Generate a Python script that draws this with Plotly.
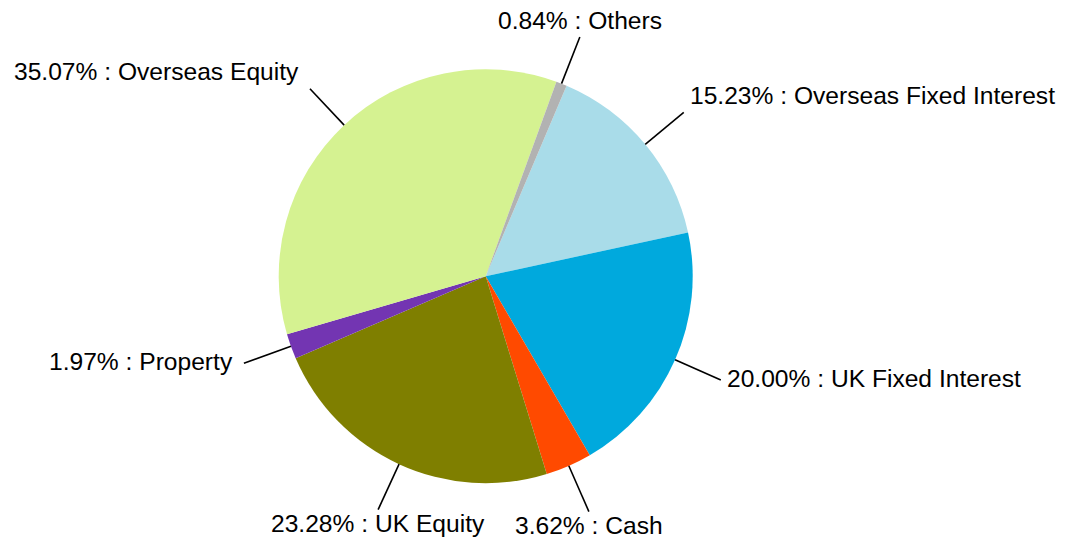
import math
import plotly.graph_objects as go

# ---- data ----
categories = ["Overseas Fixed Interest", "UK Fixed Interest", "Cash", "UK Equity",
              "Property", "Overseas Equity", "Others"]
values = [15.23, 20.00, 3.62, 23.28, 1.97, 35.07, 0.84]
colors = ["#A9DCE9", "#00A9DD", "#FF4A00", "#7F7F00", "#7335B2", "#D5F291", "#B2B2B2"]

# ---- geometry (page pixels; page body adds an 8px offset) ----
PAGE_OFFSET = 8.0
W, H = 1053, 534
CX, CY, R = 485.7 - PAGE_OFFSET, 276.2 - PAGE_OFFSET, 207.0
ROTATION = 23.0
LEADER = 50.0
GAP_LEFT = 9.0
GAP_RIGHT = 4.0
FONT = dict(family="Arial, Liberation Sans, sans-serif", size=24.6, color="black")

fig = go.Figure(go.Pie(
    labels=categories,
    values=values,
    sort=False,
    direction="clockwise",
    rotation=ROTATION,
    textinfo="none",
    hoverinfo="label+percent",
    marker=dict(colors=colors, line=dict(width=0)),
    showlegend=False,
    domain=dict(x=[(CX - R) / W, (CX + R) / W], y=[1 - (CY + R) / H, 1 - (CY - R) / H]),
))


def px(x):
    return x / W


def py(y):
    return 1 - y / H


total = sum(values)
cum = 0.0
shapes = []
annotations = []
for name, v in zip(categories, values):
    mid = math.radians(ROTATION + (cum + v / 2) / total * 360.0)
    cum += v
    dx, dy = math.sin(mid), -math.cos(mid)
    x0, y0 = CX + R * dx, CY + R * dy
    x1, y1 = CX + (R + LEADER) * dx, CY + (R + LEADER) * dy
    shapes.append(dict(type="line", xref="paper", yref="paper",
                       x0=px(x0), y0=py(y0), x1=px(x1), y1=py(y1),
                       line=dict(color="black", width=1.6)))
    if abs(dx) < 0.45:
        xa, tx = "center", x1
    elif dx > 0:
        xa, tx = "left", x1 + GAP_RIGHT
    else:
        xa, tx = "right", x1 - GAP_LEFT
    if abs(dy) < 0.5:
        ya = "middle"
    elif dy < 0:
        ya = "bottom"
    else:
        ya = "top"
    annotations.append(dict(xref="paper", yref="paper", x=px(tx), y=py(y1),
                            xanchor=xa, yanchor=ya, yshift=1.5, showarrow=False,
                            text=f"{v:.2f}% : {name}", font=FONT))

fig.update_layout(
    width=W, height=H,
    margin=dict(l=0, r=0, t=0, b=0),
    paper_bgcolor="white", plot_bgcolor="white",
    shapes=shapes, annotations=annotations,
)

fig.write_html("out.html")
